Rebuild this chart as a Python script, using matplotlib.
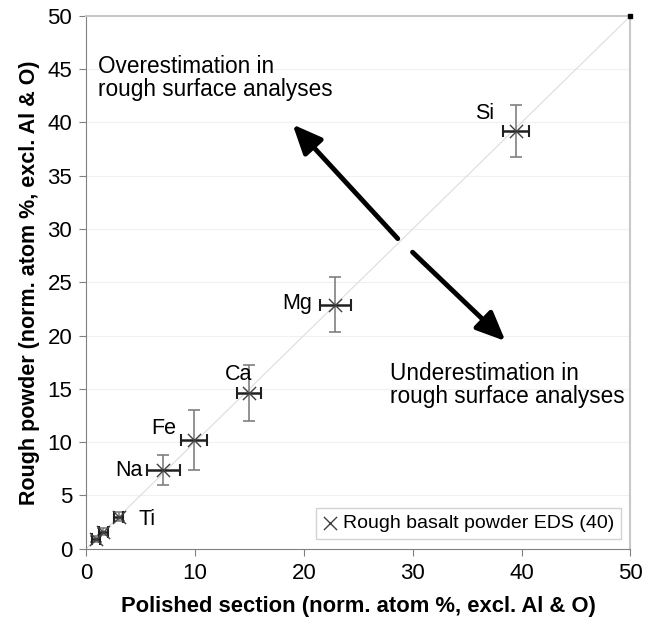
import matplotlib.pyplot as plt
import numpy as np

plt.rcParams["font.family"] = ["Liberation Sans", "DejaVu Sans"]

# data
elements = ["Si", "Mg", "Ca", "Fe", "Na", "Ti", "", ""]
polished = [39.5, 22.9, 15.0, 9.9, 7.1, 3.0, 1.6, 0.9]
polished_err = [1.2, 1.4, 1.1, 1.2, 1.5, 0.4, 0.4, 0.4]
rough = [39.2, 22.9, 14.6, 10.2, 7.4, 3.0, 1.6, 0.9]
rough_err = [2.4, 2.6, 2.6, 2.8, 1.4, 0.4, 0.3, 0.3]
label_pos = [(36.6, 40.8), (19.4, 23.0), (14.0, 16.3), (7.1, 11.3), (3.9, 7.3), (5.6, 2.7)]

fig = plt.figure(figsize=(6.52, 6.35), dpi=100)
ax = fig.add_axes([0.132, 0.136, 0.835, 0.839])

ax.plot([0, 50], [0, 50], color="#dddddd", lw=0.8, zorder=1)
for yv in range(5, 50, 5):
    ax.axhline(yv, color="#f0f0f0", lw=0.8, zorder=0)

ax.errorbar(polished, rough, yerr=rough_err, fmt="none", ecolor="#808080",
            elinewidth=1.2, capsize=4, capthick=1.2, zorder=2)
ax.errorbar(polished, rough, xerr=polished_err, fmt="none", ecolor="#202020",
            elinewidth=1.8, capsize=4, capthick=1.5, zorder=3)
ax.scatter(polished, rough, marker="x", s=90, color="#404040", lw=1.0,
           zorder=4, label="Rough basalt powder EDS (40)")
ax.plot([50], [50], "s", ms=2.5, color="black", clip_on=False, zorder=5)

for name, (lx, ly) in zip(elements, label_pos):
    ax.text(lx, ly, name, fontsize=15.5, ha="center", va="center")

# double arrow split in the middle
ax.annotate("", xy=(18.8, 40.0), xytext=(28.8, 28.9),
            arrowprops=dict(arrowstyle="-|>,head_length=0.8,head_width=0.35",
                            color="black", lw=3.5, mutation_scale=22))
ax.annotate("", xy=(38.7, 19.3), xytext=(29.8, 28.0),
            arrowprops=dict(arrowstyle="-|>,head_length=0.8,head_width=0.35",
                            color="black", lw=3.5, mutation_scale=22))

ax.text(1.1, 46.3, "Overestimation in\nrough surface analyses", fontsize=16.3,
        va="top", ha="left", linespacing=1.0)
ax.text(27.9, 17.5, "Underestimation in\nrough surface analyses", fontsize=16.3,
        va="top", ha="left", linespacing=1.0)

ax.set_xlim(0, 50)
ax.set_ylim(0, 50)
ax.set_xticks(np.arange(0, 51, 10))
ax.set_yticks(np.arange(0, 51, 5))
ax.tick_params(labelsize=16, direction="out", length=5, color="#808080",
               pad=5)
for side in ["top", "right"]:
    ax.spines[side].set_color("#c8c8c8")
    ax.spines[side].set_linewidth(1.5)
for side in ["left", "bottom"]:
    ax.spines[side].set_color("#808080")

ax.set_xlabel("Polished section (norm. atom %, excl. Al & O)", fontsize=15.8,
              fontweight="bold", labelpad=9)
ax.set_ylabel("Rough powder (norm. atom %, excl. Al & O)", fontsize=15.5,
              fontweight="bold", labelpad=5)

leg = ax.legend(loc="lower right", fontsize=14, frameon=True, fancybox=False,
                handlelength=0.7, handletextpad=0.3, borderaxespad=0.5,
                borderpad=0.35)
leg.get_frame().set_edgecolor("#c8c8c8")

fig.savefig("out.png", dpi=100)
